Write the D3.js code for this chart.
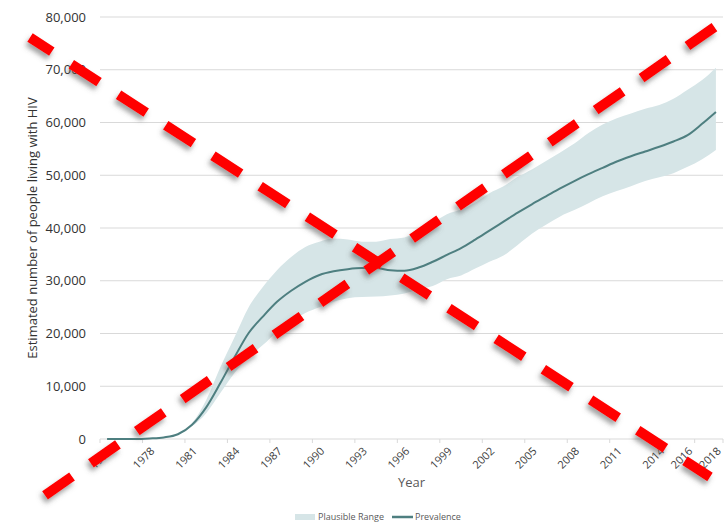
<html>
<head>
    <script src="https://d3js.org/d3.v7.min.js"></script>
    <style>
        body { margin: 0; background: #fff; }
        * { font-family: "Open Sans", sans-serif; }
    </style>
</head>
<body>
<svg id="chart" width="727" height="526"></svg>
<script>
// data
const years = d3.range(1975, 2019);
const prevalence = [0, 0, 0, 100, 300, 900, 2700, 6000, 10600, 15500,
    20100, 23200, 26000, 28100, 29800, 31100, 31800, 32200, 32400, 32400,
    32000, 31900, 32500, 33600, 34900, 36200, 37800, 39500, 41200, 42900,
    44500, 46000, 47500, 48900, 50200, 51400, 52600, 53600, 54500, 55400,
    56400, 57600, 59700, 62000];
const upper = [0, 0, 0, 150, 350, 1000, 3000, 7400, 13600, 19300,
    25000, 28800, 32000, 34500, 36400, 37400, 38000, 37800, 37400, 37400,
    37900, 38200, 39600, 41000, 42600, 43500, 44800, 46600, 47900, 49700,
    51100, 52700, 54300, 56000, 58000, 59600, 60800, 61700, 62600, 63300,
    64500, 66200, 68000, 70400];
const lower = [0, 0, 0, 50, 250, 800, 2400, 4900, 8700, 12500,
    15500, 17800, 20300, 22200, 23900, 25000, 26000, 26700, 26900, 27000,
    27200, 27600, 28400, 29000, 30300, 31000, 32300, 33600, 34800, 36800,
    38900, 40600, 42200, 43400, 44700, 46000, 47000, 47900, 48900, 49600,
    50400, 51600, 53000, 54800];
const yTicks = [0, 10000, 20000, 30000, 40000, 50000, 60000, 70000, 80000];
const xLabels = [1975, 1978, 1981, 1984, 1987, 1990, 1993, 1996, 1999, 2002,
    2005, 2008, 2011, 2014, 2016, 2018];
const xTickMarks = [1974.5, 1977.5, 1980.5, 1983.5, 1986.5, 1989.5, 1992.5, 1995.5,
    1998.5, 2001.5, 2004.5, 2007.5, 2010.5, 2013.5, 2016.5, 2018.5];

const data = years.map((y, i) => ({ year: y, prev: prevalence[i], hi: upper[i], lo: lower[i] }));

const svg = d3.select("svg#chart");
const margin = { top: 17, right: 4, bottom: 87, left: 100 };
const width = +svg.attr("width");
const height = +svg.attr("height");

const xScale = d3.scaleLinear().domain([1974.5, 2018.5]).range([margin.left, width - margin.right]);
const yScale = d3.scaleLinear().domain([0, 80000]).range([height - margin.bottom, margin.top]);

// gridlines
svg.append("g").selectAll("line").data(yTicks.slice(1))
    .join("line")
    .attr("x1", margin.left).attr("x2", width - margin.right)
    .attr("y1", d => yScale(d)).attr("y2", d => yScale(d))
    .attr("stroke", "#d9d9d9").attr("stroke-width", 1);

// y labels
svg.append("g").selectAll("text").data(yTicks)
    .join("text")
    .attr("x", 86).attr("y", d => yScale(d))
    .attr("dy", "0.35em")
    .attr("text-anchor", "end")
    .style("font-size", "13px").style("fill", "#333")
    .text(d => d3.format(",")(d));

// x axis line + ticks
svg.append("line")
    .attr("x1", margin.left).attr("x2", width - margin.right)
    .attr("y1", yScale(0)).attr("y2", yScale(0))
    .attr("stroke", "#d9d9d9");
svg.append("g").selectAll("line").data(xTickMarks)
    .join("line")
    .attr("x1", d => xScale(d)).attr("x2", d => xScale(d))
    .attr("y1", yScale(0)).attr("y2", yScale(0) + 4)
    .attr("stroke", "#d9d9d9");

svg.append("g").selectAll("text").data(xLabels)
    .join("text")
    .attr("transform", d => `translate(${xScale(d) + 3}, ${yScale(0) + 10}) rotate(-45)`)
    .attr("dy", "0.35em")
    .attr("text-anchor", "end")
    .style("font-size", "11px").style("fill", "#404040")
    .text(d => d);

// band
const area = d3.area()
    .x(d => xScale(d.year))
    .y0(d => yScale(d.lo))
    .y1(d => yScale(d.hi))
    .curve(d3.curveMonotoneX);
svg.append("path").datum(data)
    .attr("d", area)
    .attr("fill", "#d6e5e7");

const line = d3.line()
    .x(d => xScale(d.year))
    .y(d => yScale(d.prev))
    .curve(d3.curveMonotoneX);
svg.append("path").datum(data)
    .attr("d", line)
    .attr("fill", "none")
    .attr("stroke", "#4e7f80")
    .attr("stroke-width", 2);

// axis titles
svg.append("text")
    .attr("x", (margin.left + width - margin.right) / 2).attr("y", 487)
    .attr("text-anchor", "middle")
    .style("font-size", "13px").style("fill", "#595959")
    .text("Year");

svg.append("text")
    .attr("transform", `translate(37, ${(yScale(0) + yScale(80000)) / 2}) rotate(-90)`)
    .attr("text-anchor", "middle")
    .style("font-size", "13px").style("fill", "#333")
    .text("Estimated number of people living with HIV");

// legend
const legend = svg.append("g").attr("transform", "translate(0, 517)");
legend.append("rect").attr("x", 295).attr("y", -3).attr("width", 20).attr("height", 6).attr("fill", "#d6e5e7");
legend.append("text").attr("x", 318).attr("dy", "0.35em")
    .style("font-size", "9px").style("fill", "#595959").text("Plausible Range");
legend.append("line").attr("x1", 392).attr("x2", 413).attr("stroke", "#4e7f80").attr("stroke-width", 2.5);
legend.append("text").attr("x", 415).attr("dy", "0.35em")
    .style("font-size", "9px").style("fill", "#595959").text("Prevalence");

// red crossing dashes on top
const defs = svg.append("defs");
defs.append("filter").attr("id", "shadow")
    .attr("x", "-20%").attr("y", "-20%").attr("width", "140%").attr("height", "140%")
    .append("feDropShadow")
    .attr("dx", -2).attr("dy", 4).attr("stdDeviation", 2.5)
    .attr("flood-color", "#555").attr("flood-opacity", 0.55);

const cross = svg.append("g").attr("filter", "url(#shadow)");
cross.append("line")
    .attr("x1", 30).attr("y1", 37.5).attr("x2", 710).attr("y2", 477)
    .attr("stroke", "#ff0000").attr("stroke-width", 10)
    .attr("stroke-dasharray", "33,23.2").attr("stroke-dashoffset", 7);
cross.append("line")
    .attr("x1", 45).attr("y1", 495.4).attr("x2", 715).attr("y2", 26.7)
    .attr("stroke", "#ff0000").attr("stroke-width", 10)
    .attr("stroke-dasharray", "33,23");
</script>
</body>
</html>
